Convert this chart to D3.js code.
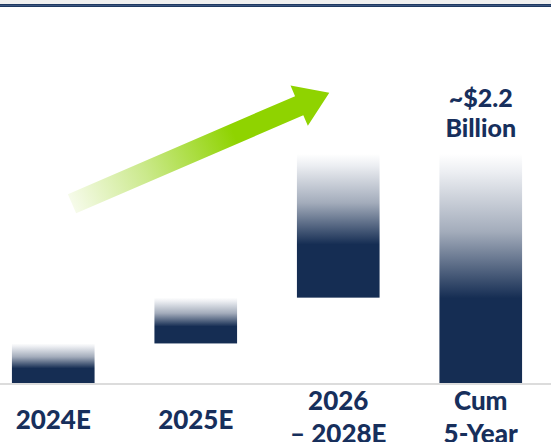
<!DOCTYPE html>
<html>
<head>
<meta charset="utf-8">
<script src="https://cdn.jsdelivr.net/npm/d3@7"></script>
<style>
  html, body { margin: 0; padding: 0; background: #ffffff; }
  svg { display: block; }
</style>
</head>
<body>
<div id="chart"></div>
<script>
// ---- data ----
const categories = ["2024E", "2025E", "2026 – 2028E", "Cum 5-Year"];
const categoryLines = [["2024E"], ["2025E"], ["2026", "– 2028E"], ["Cum", "5-Year"]];
const increments = [0.38, 0.44, 1.38];          // $ billions, waterfall steps
const totalValue = 2.2;                          // cumulative 5-year
const totalLabel = ["~$2.2", "Billion"];

// ---- layout ----
const W = 551, H = 442;
const navy = "#152d53";
const textColor = "#172f5c";

const svg = d3.select("#chart").append("svg")
  .attr("width", W).attr("height", H);

const x = d3.scaleBand().domain(categories)
  .range([-18, 552]).paddingInner(0.42).paddingOuter(0.21);
const y = d3.scaleLinear().domain([0, totalValue]).range([383, 154]);

// build waterfall rows
let cum = 0;
const rows = increments.map((v, i) => {
  const r = { cat: categories[i], y0: cum, y1: cum + v };
  cum += v;
  return r;
});
rows.push({ cat: categories[3], y0: 0, y1: totalValue });

const defs = svg.append("defs");
const bg = defs.append("linearGradient").attr("id", "barGrad")
  .attr("x1", 0).attr("y1", 0).attr("x2", 0).attr("y2", 1);
bg.append("stop").attr("offset", "0%").attr("stop-color", "#ffffff");
bg.append("stop").attr("offset", "8%").attr("stop-color", "#eceef2");
bg.append("stop").attr("offset", "34%").attr("stop-color", "#a3acbb");
bg.append("stop").attr("offset", "63%").attr("stop-color", navy);
bg.append("stop").attr("offset", "100%").attr("stop-color", navy);

// top band
svg.append("rect").attr("x", 0).attr("y", 0).attr("width", W).attr("height", 4).attr("fill", "#f0f0f0");
svg.append("rect").attr("x", 0).attr("y", 4).attr("width", W).attr("height", 3).attr("fill", "#1f3a62");
svg.append("rect").attr("x", 0).attr("y", 5).attr("width", W).attr("height", 1).attr("fill", "#3c5680");

// baseline
svg.append("rect").attr("x", 0).attr("y", 383).attr("width", W).attr("height", 2).attr("fill", "#dcdcdc");

// bars
svg.selectAll("rect.bar").data(rows).join("rect")
  .attr("class", "bar")
  .attr("x", d => x(d.cat))
  .attr("width", x.bandwidth())
  .attr("y", d => y(d.y1))
  .attr("height", d => y(d.y0) - y(d.y1))
  .attr("fill", "url(#barGrad)");

// category labels (vertically centred around y=419)
const lineH = 33;
const fontSize = 26;
const font = "Lato, 'Open Sans', sans-serif";
categoryLines.forEach((lines, i) => {
  const cx = x(categories[i]) + x.bandwidth() / 2;
  const n = lines.length;
  const firstBaseline = n > 1 ? 410 : 429;
  const t = svg.append("text")
    .attr("text-anchor", "middle")
    .attr("font-family", font)
    .attr("font-weight", 900)
    .attr("font-size", fontSize)
    .attr("fill", textColor);
  lines.forEach((l, j) => {
    t.append("tspan").attr("x", cx).attr("y", firstBaseline + j * lineH).text(l);
  });
});

// total label above the last bar
{
  const cx = x(categories[3]) + x.bandwidth() / 2;
  const t = svg.append("text")
    .attr("text-anchor", "middle")
    .attr("font-family", font)
    .attr("font-weight", 900)
    .attr("font-size", 25)
    .attr("fill", textColor);
  totalLabel.forEach((l, j) => {
    t.append("tspan").attr("x", cx).attr("y", y(totalValue) - 47 + j * 29.5).text(l);
  });
}

// growth arrow (decorative)
const arrow = { tail: [72, 203.7], tip: [329.3, 92.7], shaftHalf: 10.4, headHalf: 21.9, headLen: 32.8 };
const dx = arrow.tip[0] - arrow.tail[0], dy = arrow.tip[1] - arrow.tail[1];
const len = Math.hypot(dx, dy);
const ang = Math.atan2(dy, dx) * 180 / Math.PI;
const ag = defs.append("linearGradient").attr("id", "arrowGrad")
  .attr("gradientUnits", "userSpaceOnUse")
  .attr("x1", 0).attr("y1", 0).attr("x2", len * 0.63).attr("y2", 0);
ag.append("stop").attr("offset", "0%").attr("stop-color", "#f6fbea");
ag.append("stop").attr("offset", "45%").attr("stop-color", "#cbe98c");
ag.append("stop").attr("offset", "100%").attr("stop-color", "#8fd300");
const b = len - arrow.headLen;
const pts = [[0, -arrow.shaftHalf], [b, -arrow.shaftHalf], [b, -arrow.headHalf], [len, 0],
             [b, arrow.headHalf], [b, arrow.shaftHalf], [0, arrow.shaftHalf]];
svg.append("path")
  .attr("transform", `translate(${arrow.tail[0]},${arrow.tail[1]}) rotate(${ang})`)
  .attr("d", d3.line()(pts) + "Z")
  .attr("fill", "url(#arrowGrad)");
</script>
</body>
</html>
